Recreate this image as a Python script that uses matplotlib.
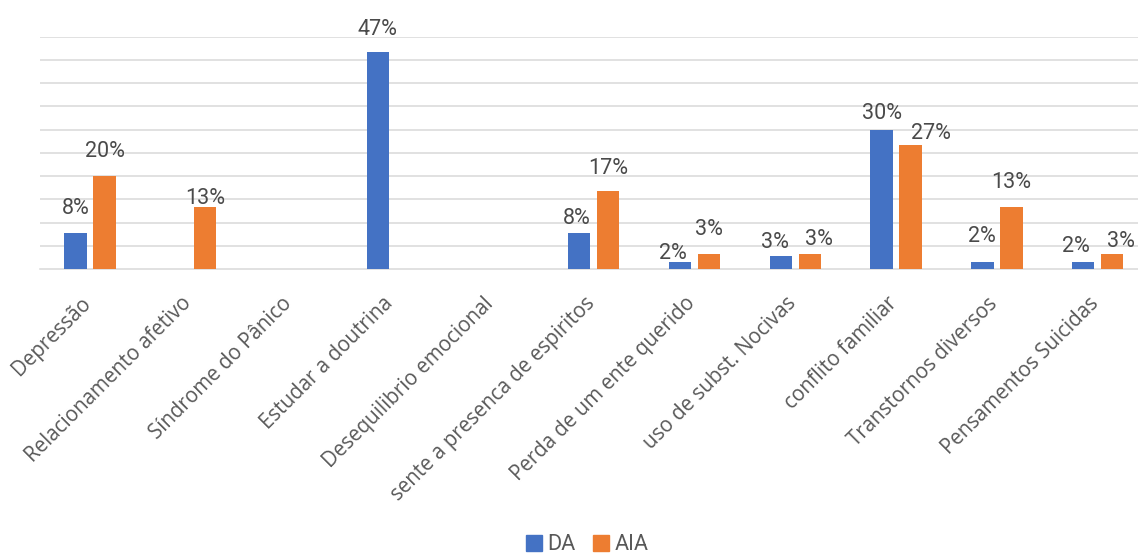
import matplotlib
matplotlib.use("Agg")
import matplotlib.pyplot as plt
from matplotlib.patches import Patch
import numpy as np

categories = ["Depressão", "Relacionamento afetivo", "Síndrome do Pânico",
              "Estudar a doutrina", "Desequilibrio emocional",
              "sente a presenca de espiritos", "Perda de um ente querido",
              "uso de subst. Nocivas", "conflito familiar",
              "Transtornos diversos", "Pensamentos Suicidas"]
series_names = ["DA", "AIA"]
da_values = [7.7, 0, 0, 46.8, 0, 7.7, 1.5, 2.9, 30.0, 1.5, 1.5]
aia_values = [20.0, 13.3, 0, 0, 0, 16.7, 3.3, 3.3, 26.7, 13.3, 3.3]

# label offsets (pixels) relative to bar top: (dx, dy)
da_label_off = [(0, 14), None, None, (0, 12), None, (-3, 4), (-7, -2), (-6, 3), (0, 6), (0, 15), (-7, 5)]
aia_label_off = [(0, 14), (0, -2), None, None, None, (0, 12), (0, 14), (9, 4), (20, 1), (0, 14), (9, 2)]

BLUE = "#4472C4"
ORANGE = "#ED7D31"
GRID = "#D9D9D9"
TXT = "#595959"
LBL = "#4a4a4a"

W, H = 1138, 554
fig = plt.figure(figsize=(W / 100, H / 100), dpi=100)
left_px, right_px = 39.6, 1148
top_px, bot_px = 36.7, 269
ax = fig.add_axes([left_px / W, (H - bot_px) / H, (right_px - left_px) / W, (bot_px - top_px) / H])

x = np.arange(len(categories))
bw = 0.222
off = 0.144
ax.bar(x - off, da_values, bw, color=BLUE, zorder=3)
ax.bar(x + off, aia_values, bw, color=ORANGE, zorder=3)

ax.set_xlim(-0.5, len(categories) - 0.5)
ax.set_ylim(0, 50)
ax.set_yticks(np.arange(5, 51, 5))
ax.yaxis.grid(True, color=GRID, linewidth=1.1, zorder=0)
ax.tick_params(axis="y", length=0, labelleft=False)
ax.tick_params(axis="x", length=0, labelbottom=False)
for s in ["top", "right", "left"]:
    ax.spines[s].set_visible(False)
ax.spines["bottom"].set_color(GRID)
ax.spines["bottom"].set_linewidth(1.1)
ax.set_xticks(x)

lab_font = dict(family=["Roboto", "DejaVu Sans"], fontsize=15.5, color=LBL, fontweight="normal")
for vals, offs, sgn in [(da_values, da_label_off, -1), (aia_values, aia_label_off, 1)]:
    for i, v in enumerate(vals):
        if v <= 0 or offs[i] is None:
            continue
        dx, dy = offs[i]
        ax.annotate(f"{v:.0f}%", xy=(i + sgn * off, v), xytext=(dx, dy),
                    textcoords="offset pixels", ha="center", va="bottom",
                    annotation_clip=False, **lab_font)

for i, c in enumerate(categories):
    ax.annotate(c, xy=(i, 0), xytext=(5, -24), textcoords="offset pixels",
                ha="right", va="top", rotation=45, fontsize=14.8,
                family=["Open Sans", "DejaVu Sans"], color=TXT, annotation_clip=False)

handles = [Patch(color=BLUE, label=series_names[0]), Patch(color=ORANGE, label=series_names[1])]
leg = fig.legend(handles=handles, loc="center", bbox_to_anchor=(587 / W, 1 - 545 / H),
                 ncol=2, frameon=False, handlelength=0.75, handleheight=0.75,
                 handletextpad=0.25, columnspacing=0.8,
                 prop=dict(family=["Roboto", "DejaVu Sans"], size=15.5))
for t in leg.get_texts():
    t.set_color(TXT)

fig.savefig("out.png", dpi=100)
